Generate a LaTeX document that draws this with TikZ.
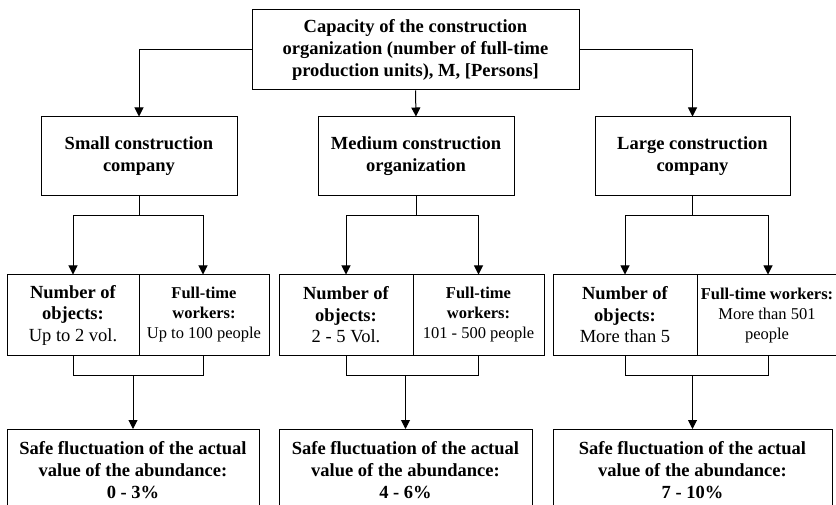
\documentclass[tikz,border=0pt]{standalone}
\usepackage{fontspec}
\setmainfont{Liberation Serif}
\usetikzlibrary{arrows.meta}
\tikzset{
  box/.style={draw, line width=1pt, rectangle, align=center, inner sep=0pt, anchor=center},
  big/.style={font=\fontsize{18.5}{22}\selectfont},
  small/.style={font=\fontsize{16.5}{20}\selectfont},
  conn/.style={line width=1pt},
  arr/.style={line width=1pt, -{Triangle[length=9pt,width=9pt]}}
}
\begin{document}
\begin{tikzpicture}[x=1pt,y=-1pt]
\clip (0,0) rectangle (836,505);
\fill[white] (0,0) rectangle (836,505);
% top
\node[box,big,minimum width=327pt,minimum height=80pt] (top) at (415.5,50)
  {\textbf{Capacity of the construction}\\\textbf{organization (number of full-time}\\\textbf{production units), M, [Persons]}};
% second level
\node[box,big,minimum width=196pt,minimum height=79pt] (sm) at (139,156.5)
  {\textbf{Small construction}\\\textbf{company}};
\node[box,big,minimum width=196pt,minimum height=79pt] (md) at (416,156.5)
  {\textbf{Medium construction}\\\textbf{organization}};
\node[box,big,minimum width=195pt,minimum height=79pt] (lg) at (692.5,156.5)
  {\textbf{Large construction}\\\textbf{company}};
% third level
\node[box,font=\fontsize{18.5}{21.5}\selectfont,minimum width=132pt,minimum height=80pt] (sL) at (73,315)
  {\textbf{Number of}\\\textbf{objects:}\\Up to 2 vol.};
\node[box,small,minimum width=130pt,minimum height=80pt] (sR) at (204,315)
  {\textbf{Full-time}\\\textbf{workers:}\\Up to 100 people};
\node[box,font=\fontsize{18.5}{21.5}\selectfont,minimum width=134pt,minimum height=80pt] (mL) at (346,315)
  {\textbf{Number of}\\\textbf{objects:}\\2 - 5 Vol.};
\node[box,small,minimum width=131pt,minimum height=80pt] (mR) at (478.5,315)
  {\textbf{Full-time}\\\textbf{workers:}\\101 - 500 people};
\node[box,font=\fontsize{18.5}{21.5}\selectfont,minimum width=144pt,minimum height=80pt] (lL) at (625,315)
  {\textbf{Number of}\\\textbf{objects:}\\More than 5};
\node[box,small,minimum width=150pt,minimum height=80pt,anchor=west] (lR) at (697,315)
  {};
\node[small,align=center] (lRt) at (767,316)
  {\textbf{Full-time workers:}\\More than 501\\people};
% bottom
\node[box,big,minimum width=252pt,minimum height=100pt,anchor=north] (sB) at (133,429)
  {};
\node[big,align=center] (sBt) at (133,470)
  {\textbf{Safe fluctuation of the actual}\\\textbf{value of the abundance:}\\\textbf{0 - 3\%}};
\node[box,big,minimum width=253pt,minimum height=100pt,anchor=north] (mB) at (405.5,429)
  {};
\node[big,align=center] (mBt) at (405.5,470)
  {\textbf{Safe fluctuation of the actual}\\\textbf{value of the abundance:}\\\textbf{4 - 6\%}};
\node[box,big,minimum width=279pt,minimum height=100pt,anchor=north] (lB) at (692.5,429)
  {};
\node[big,align=center] (lBt) at (692.5,470)
  {\textbf{Safe fluctuation of the actual}\\\textbf{value of the abundance:}\\\textbf{7 - 10\%}};
% connectors top -> second
\draw[arr] (top.west) -| (sm.north);
\draw[arr] (top.south) -- (md.north);
\draw[arr] (top.east) -| (lg.north);
% second -> third
\coordinate (sj) at (139,216);
\coordinate (mj) at (416,216);
\coordinate (lj) at (692.5,216);
\draw[conn] (sm.south) -- (sj);
\draw[arr] (sj) -| (sL.north);
\draw[arr] (sj) -| ([xshift=-1pt]sR.north);
\draw[conn] (md.south) -- (mj);
\draw[arr] (mj) -| (mL.north);
\draw[arr] (mj) -| (mR.north);
\draw[conn] (lg.south) -- (lj);
\draw[arr] (lj) -| (lL.north);
\draw[arr] (lj) -| (lR.north -| 768,0);
% third -> bottom
\coordinate (sk) at (133,375);
\coordinate (mk) at (405.5,375);
\coordinate (lk) at (692.5,375);
\draw[conn] (sL.south) |- (sk);
\draw[conn] ([xshift=-1pt]sR.south) |- (sk);
\draw[arr] (sk) -- (sB.north);
\draw[conn] (mL.south) |- (mk);
\draw[conn] (mR.south) |- (mk);
\draw[arr] (mk) -- (mB.north);
\draw[conn] (lL.south) |- (lk);
\draw[conn] (lR.south -| 768,0) |- (lk);
\draw[arr] (lk) -- (lB.north);
\end{tikzpicture}
\end{document}
